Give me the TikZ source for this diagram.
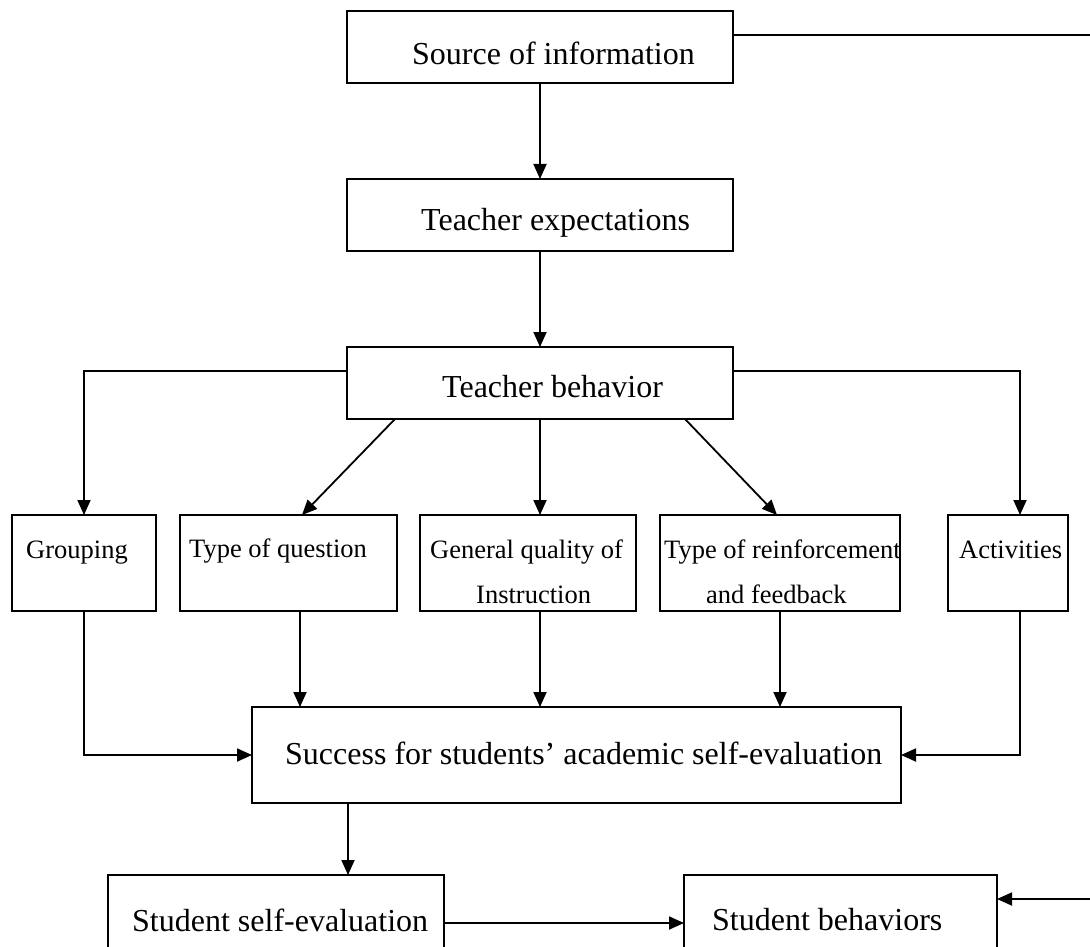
\documentclass[tikz,border=0pt]{standalone}
\usepackage{fontspec}
\setmainfont{Liberation Serif}
\usetikzlibrary{arrows.meta}
\begin{document}
\begin{tikzpicture}[x=1pt,y=-1pt,
  box/.style={draw, line width=1.8pt, rectangle, inner sep=0pt, outer sep=0pt},
  bigtext/.style={font=\fontsize{32}{38}\selectfont, inner sep=0pt, anchor=base west},
  smalltext/.style={font=\fontsize{26.5}{32}\selectfont, inner sep=0pt, anchor=base west},
  link/.style={line width=1.8pt},
  arrowlink/.style={link, -{Triangle[length=15pt,width=13pt]}}]
\useasboundingbox (0,0) rectangle (1090,947);
\clip (0,0) rectangle (1090,947);

% boxes
\node[box, minimum width=386pt, minimum height=72pt] (src)  at (540,47)  {};
\node[box, minimum width=386pt, minimum height=72pt] (exp)  at (540,215) {};
\node[box, minimum width=386pt, minimum height=72pt] (beh)  at (540,383) {};
\node[box, minimum width=144pt, minimum height=96pt] (grp)  at (84,563)  {};
\node[box, minimum width=217pt, minimum height=96pt] (typ)  at (288.5,563) {};
\node[box, minimum width=216pt, minimum height=96pt] (gen)  at (528,563) {};
\node[box, minimum width=240pt, minimum height=96pt] (rein) at (780,563) {};
\node[box, minimum width=120pt, minimum height=96pt] (act)  at (1008,563) {};
\node[box, minimum width=649pt, minimum height=96pt] (succ) at (576.5,755) {};
\node[box, minimum width=336pt, minimum height=90pt] (sse)  at (276,920) {};
\node[box, minimum width=313pt, minimum height=90pt] (sb)   at (840.5,920) {};

% texts
\node[bigtext] (t-src) at (412,65) {Source of information};
\node[bigtext] (t-exp) at (421,230) {Teacher expectations};
\node[bigtext] (t-beh) at (442,397) {Teacher behavior};
\node[smalltext] (t-grp) at (26,558) {Grouping};
\node[smalltext] (t-typ) at (189,557) {Type of question};
\node[smalltext] (t-gen1) at (430,558) {General quality of};
\node[smalltext] (t-gen2) at (476,603) {Instruction};
\node[smalltext] (t-rein1) at (664,558) {Type of reinforcement};
\node[smalltext] (t-rein2) at (706,603) {and feedback};
\node[smalltext] (t-act) at (959,558) {Activities};
\node[bigtext] (t-succ) at (285,764) {Success for students’ academic self-evaluation};
\node[bigtext] (t-sse) at (132,931) {Student self-evaluation};
\node[bigtext] (t-sb) at (712,930) {Student behaviors};

% helper coordinates
\coordinate (fbtop) at (1090,35);
\coordinate (fbbot) at (1090,899);
\coordinate (lcorner) at (84,371);
\coordinate (rcorner) at (1020,371);
\coordinate (lowrow) at (0,923);

% vertical chain
\draw[arrowlink] (src.south) -- (exp.north);
\draw[arrowlink] (exp.south) -- (beh.north);

% feedback lines at the right edge
\draw[link] (fbtop -| src.east) -- (fbtop);
\draw[arrowlink] (fbbot) -- (fbbot -| sb.east);

% teacher behavior to the five boxes
\draw[arrowlink] (lcorner -| beh.west) -- (lcorner) -- (grp.north);
\draw[arrowlink] (rcorner -| beh.east) -- (rcorner) -- (rcorner |- act.north);
\draw[arrowlink] ([xshift=48pt]beh.south west) -- ([xshift=122pt]typ.north west);
\draw[arrowlink] (beh.south) -- (beh.south |- gen.north);
\draw[arrowlink] ([xshift=-48pt]beh.south east) -- ([xshift=117pt]rein.north west);

% five boxes to success
\draw[arrowlink] (grp.south) |- (succ.west);
\draw[arrowlink] (rcorner |- act.south) |- (succ.east);
\draw[arrowlink] ([xshift=11.5pt]typ.south) -- ([xshift=11.5pt]typ.south |- succ.north);
\draw[arrowlink] ([xshift=12pt]gen.south) -- ([xshift=12pt]gen.south |- succ.north);
\draw[arrowlink] (rein.south) -- (rein.south |- succ.north);

% bottom row
\draw[arrowlink] ([xshift=-228.5pt]succ.south) -- ([xshift=72pt]sse.north);
\draw[arrowlink] (lowrow -| sse.east) -- (lowrow -| sb.west);
\end{tikzpicture}
\end{document}
